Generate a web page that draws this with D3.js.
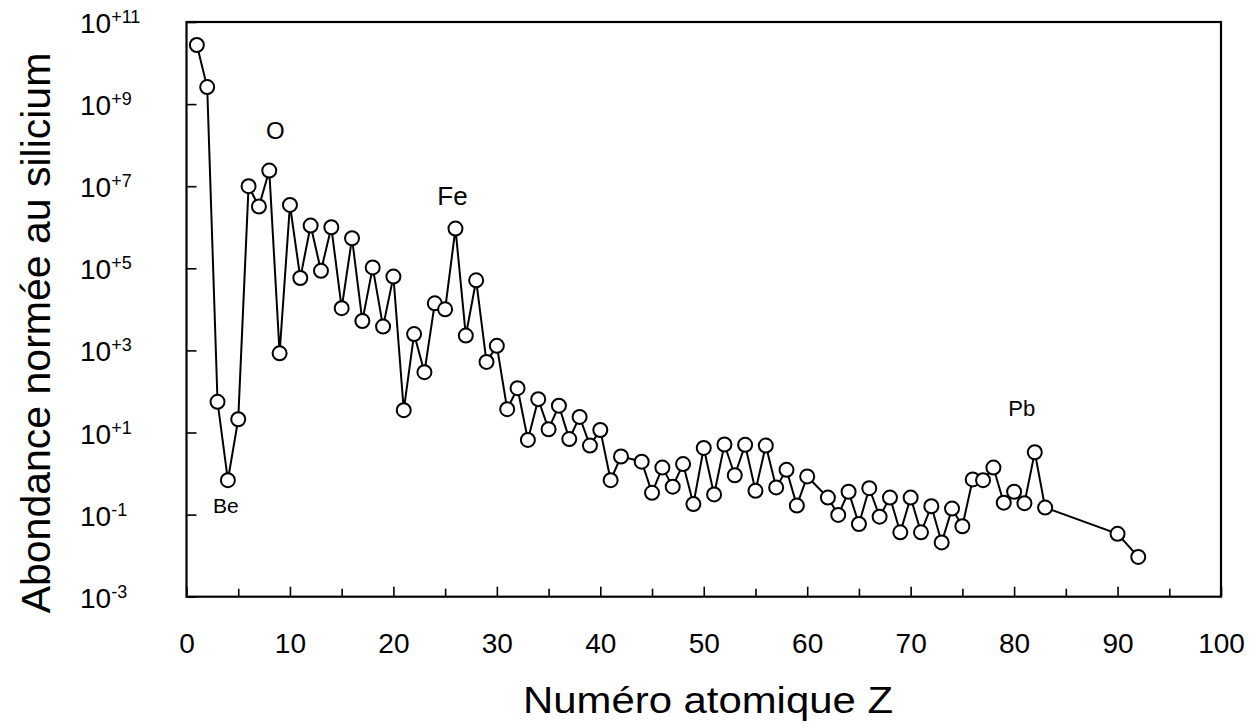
<!DOCTYPE html>
<html>
<head>
<meta charset="utf-8">
<script src="https://cdn.jsdelivr.net/npm/d3@7"></script>
<style>
  body { margin: 0; background: #fff; }
  svg text { font-family: "Liberation Sans", Arial, Helvetica, sans-serif; fill: #000; }
</style>
</head>
<body>
<svg id="chart" width="1254" height="725"></svg>
<script>
// atomic number Z and abundance (normalised to Si)
const atomicZ = [1,2,3,4,5,6,7,8,9,10,11,12,13,14,15,16,17,18,19,20,
  21,22,23,24,25,26,27,28,29,30,31,32,33,34,35,36,37,38,39,40,
  41,42,44,45,46,47,48,49,50,51,52,53,54,55,56,57,58,59,60,
  62,63,64,65,66,67,68,69,70,71,72,73,74,75,76,77,78,79,80,81,82,83,90,92];
const abundance = [2.75e10,2.6e9,56,0.69,21,1.0e7,3.2e6,2.4e7,850,3.5e6,
  5.8e4,1.1e6,8.7e4,1.0e6,1.07e4,5.4e5,5200,1.05e5,3800,6.3e4,
  35,2500,295,1.4e4,1.0e4,9.3e5,2300,5.1e4,525,1290,
  37,120,6.6,65,12,45,6.9,24,4.8,11.5,
  0.69,2.6,1.95,0.34,1.4,0.48,1.7,0.18,4.2,0.31,5.1,0.91,5.0,0.38,4.8,0.46,1.23,0.166,0.85,
  0.26,0.098,0.36,0.059,0.44,0.089,0.26,0.037,0.26,0.037,0.16,0.021,0.14,0.052,
  0.72,0.69,1.4,0.195,0.36,0.19,3.3,0.148,0.034,0.0093];

const labelNames = ["O", "Fe", "Be", "Pb"];
const labelZ = [8, 26, 4, 82];

const xTicks = d3.range(0, 101, 5);
const yTicks = [1e-3, 1e-1, 1e1, 1e3, 1e5, 1e7, 1e9, 1e11];
const yExp = ["-3", "-1", "+1", "+3", "+5", "+7", "+9", "+11"];

const svg = d3.select("#chart");
const mLeft = 186.5, mRight = 1221, mTop = 22, mBottom = 596.7;

const x = d3.scaleLinear().domain([0, 100]).range([mLeft, mRight]);
const y = d3.scaleLog().domain([1e-3, 1e11]).range([mBottom, mTop]);

// frame
svg.append("rect")
    .attr("x", mLeft).attr("y", mTop)
    .attr("width", mRight - mLeft).attr("height", mBottom - mTop)
    .attr("fill", "none").attr("stroke", "#000").attr("stroke-width", 2.2);

// x axis: inward ticks every 5, labels every 10
const gx = svg.append("g")
    .attr("transform", "translate(0," + mBottom + ")")
    .call(d3.axisBottom(x).tickValues(xTicks).tickSize(-8).tickPadding(36)
        .tickFormat(d => d % 10 ? "" : d));
gx.select(".domain").remove();
gx.selectAll(".tick line").attr("stroke", "#000").attr("stroke-width", 1.6)
    .attr("y2", d => d % 10 ? -8 : -10);
gx.selectAll(".tick text").attr("font-size", 28).attr("fill", "#000");

// y axis: inward ticks, labels built with superscripts
const gy = svg.append("g")
    .attr("transform", "translate(" + mLeft + ",0)")
    .call(d3.axisLeft(y).tickValues(yTicks).tickSize(-10).tickFormat(""));
gy.select(".domain").remove();
gy.selectAll(".tick line").attr("stroke", "#000").attr("stroke-width", 1.6);

const yl = svg.append("g").selectAll("text").data(yTicks).join("text")
    .attr("x", 80).attr("y", d => y(d) + 11)
    .attr("font-size", 28);
yl.append("tspan").text("10");
yl.append("tspan").attr("dy", -10).attr("font-size", 18).text((d, i) => yExp[i]);

// line + markers
const pts = atomicZ.map((z, i) => [z, abundance[i]]);
svg.append("path").datum(pts)
    .attr("fill", "none").attr("stroke", "#000").attr("stroke-width", 2)
    .attr("d", d3.line().x(d => x(d[0])).y(d => y(d[1])));

svg.append("g").selectAll("circle").data(pts).join("circle")
    .attr("cx", d => x(d[0])).attr("cy", d => y(d[1])).attr("r", 7)
    .attr("fill", "#fff").attr("stroke", "#000").attr("stroke-width", 2);

// element labels
const labOff = {O: [6, 40, 24], Fe: [-3, 33, 26], Be: [-2, -25, 21], Pb: [-13, 44, 22]};
svg.append("g").selectAll("text").data(labelNames).join("text")
    .attr("text-anchor", "middle").attr("dominant-baseline", "central")
    .attr("x", (d, i) => x(labelZ[i]) + labOff[d][0])
    .attr("y", (d, i) => y(abundance[atomicZ.indexOf(labelZ[i])]) - labOff[d][1])
    .attr("font-size", d => labOff[d][2])
    .text(d => d);

// axis titles
svg.append("text")
    .attr("x", 708).attr("y", 713).attr("text-anchor", "middle")
    .attr("font-size", 36).attr("textLength", 370).attr("lengthAdjust", "spacingAndGlyphs")
    .text("Numéro atomique Z");

svg.append("text")
    .attr("transform", "translate(50,333) rotate(-90)")
    .attr("text-anchor", "middle").attr("font-size", 41)
    .text("Abondance normée au silicium");
</script>
</body>
</html>
